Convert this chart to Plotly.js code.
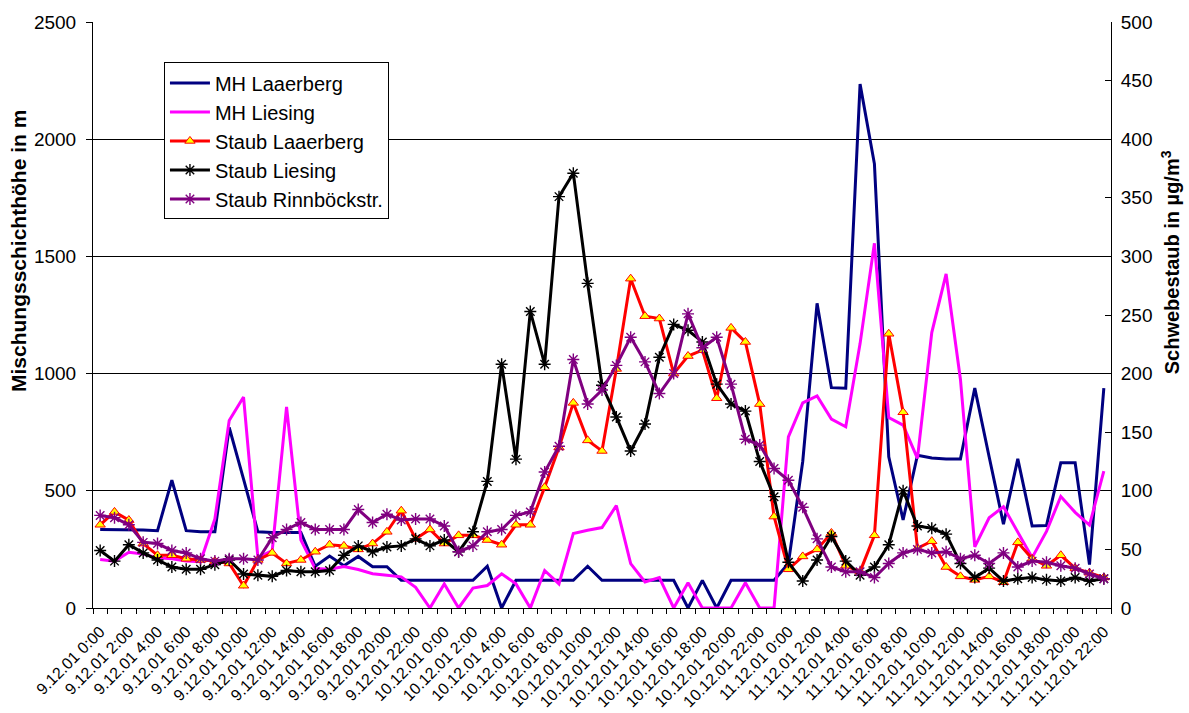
<!DOCTYPE html>
<html>
<head>
<meta charset="utf-8">
<script src="https://cdn.plot.ly/plotly-3.0.1.min.js"></script>
<style>html,body{margin:0;padding:0;background:#fff;}#chart{width:1189px;height:713px;}</style>
</head>
<body>
<div id="chart"></div>
<script>
const categories = [
"9.12.01 0:00","9.12.01 1:00","9.12.01 2:00","9.12.01 3:00","9.12.01 4:00","9.12.01 5:00","9.12.01 6:00","9.12.01 7:00",
"9.12.01 8:00","9.12.01 9:00","9.12.01 10:00","9.12.01 11:00","9.12.01 12:00","9.12.01 13:00","9.12.01 14:00","9.12.01 15:00",
"9.12.01 16:00","9.12.01 17:00","9.12.01 18:00","9.12.01 19:00","9.12.01 20:00","9.12.01 21:00","9.12.01 22:00","9.12.01 23:00",
"10.12.01 0:00","10.12.01 1:00","10.12.01 2:00","10.12.01 3:00","10.12.01 4:00","10.12.01 5:00","10.12.01 6:00","10.12.01 7:00",
"10.12.01 8:00","10.12.01 9:00","10.12.01 10:00","10.12.01 11:00","10.12.01 12:00","10.12.01 13:00","10.12.01 14:00","10.12.01 15:00",
"10.12.01 16:00","10.12.01 17:00","10.12.01 18:00","10.12.01 19:00","10.12.01 20:00","10.12.01 21:00","10.12.01 22:00","10.12.01 23:00",
"11.12.01 0:00","11.12.01 1:00","11.12.01 2:00","11.12.01 3:00","11.12.01 4:00","11.12.01 5:00","11.12.01 6:00","11.12.01 7:00",
"11.12.01 8:00","11.12.01 9:00","11.12.01 10:00","11.12.01 11:00","11.12.01 12:00","11.12.01 13:00","11.12.01 14:00","11.12.01 15:00",
"11.12.01 16:00","11.12.01 17:00","11.12.01 18:00","11.12.01 19:00","11.12.01 20:00","11.12.01 21:00","11.12.01 22:00"
];

// Mischungsschichthöhe in m (left axis)
const mhLaaerberg = [335,335,333,333,330,545,330,325,325,770,550,325,322,322,322,178,222,180,220,176,176,118,118,118,
118,118,118,178,0,118,118,118,118,118,178,118,118,118,118,118,118,0,118,0,118,118,118,118,
190,625,1300,940,938,2235,1895,645,376,652,640,636,636,938,645,358,636,350,352,620,620,185,938];
const mhLiesing = [207,200,238,230,214,210,200,198,380,800,900,215,245,858,290,168,165,177,164,146,140,133,88,0,
103,0,85,96,146,103,0,160,103,318,332,343,437,189,111,130,0,108,0,0,0,108,0,0,
730,875,905,806,773,1128,1556,812,780,638,1175,1425,975,261,385,432,323,215,327,476,408,354,584];

// Schwebestaub in µg/m³ (right axis)
const staubLaaerberg = [71,82,75,55,45,45,42,41,40,38,19,41,47,38,41,48,54,53,50,55,65,83,59,67,
55,62,62,58,54,71,71,103,137,175,143,134,204,281,249,247,200,215,220,179,239,227,174,78,
33,44,50,64,36,31,62,234,167,51,57,35,27,24,27,22,56,42,36,45,34,30,26];
const staubLiesing = [49,40,54,47,41,35,33,33,37,41,29,28,27,32,31,31,32,45,53,48,52,53,59,53,
58,48,65,108,208,127,253,208,351,371,277,190,163,134,157,214,242,237,227,191,174,168,125,95,
39,23,41,61,40,28,35,54,100,70,68,63,38,26,34,23,25,26,24,23,26,23,25];
const staubRinnboeck = [79,77,71,56,55,49,47,42,40,42,42,41,60,67,73,67,67,67,84,73,80,75,76,76,
70,48,53,65,67,79,82,116,138,212,174,186,207,231,210,183,200,251,222,231,191,144,139,119,
109,86,59,35,31,31,26,38,47,50,47,48,42,45,38,47,35,40,39,36,34,29,25];

const tickText = categories.map((c, i) => (i % 2 === 0 ? c : " "));

const FONT = "Liberation Sans, Arial, sans-serif";

const traces = [
  {name: "MH Laaerberg", x: categories, y: mhLaaerberg, type: "scatter", mode: "lines",
   line: {color: "#000080", width: 3}, yaxis: "y"},
  {name: "MH Liesing", x: categories, y: mhLiesing, type: "scatter", mode: "lines",
   line: {color: "#FF00FF", width: 3}, yaxis: "y"},
  {name: "Staub Laaerberg", x: categories, y: staubLaaerberg, type: "scatter", mode: "lines+markers",
   line: {color: "#FF0000", width: 3},
   marker: {symbol: "triangle-up", size: 9, color: "#FFFF00", line: {color: "#FF0000", width: 1}}, yaxis: "y2"},
  {name: "Staub Liesing", x: categories, y: staubLiesing, type: "scatter", mode: "lines+markers",
   line: {color: "#000000", width: 3},
   marker: {symbol: "asterisk-open", size: 10, color: "#000000", line: {color: "#000000", width: 1.4}}, yaxis: "y2"},
  {name: "Staub Rinnböckstr.", x: categories, y: staubRinnboeck, type: "scatter", mode: "lines+markers",
   line: {color: "#800080", width: 3},
   marker: {symbol: "asterisk-open", size: 10, color: "#800080", line: {color: "#800080", width: 1.4}}, yaxis: "y2"}
];

const layout = {
  width: 1189, height: 713,
  margin: {l: 93, r: 78, t: 22, b: 105},
  paper_bgcolor: "#ffffff", plot_bgcolor: "#ffffff",
  font: {family: FONT, color: "#000000", size: 17},
  showlegend: true,
  legend: {x: 0.0697, y: 0.931, xanchor: "left", yanchor: "top",
    bgcolor: "#ffffff", bordercolor: "#000000", borderwidth: 1,
    font: {family: FONT, size: 20, color: "#000000"}, itemwidth: 40, tracegroupgap: 0},
  xaxis: {type: "category", range: [-0.5, categories.length - 0.5],
    tickmode: "array", tickvals: categories, ticktext: tickText, tickson: "boundaries",
    ticks: "outside", ticklen: 5, tickcolor: "#000000", tickwidth: 1,
    tickangle: -45, ticklabelstandoff: 7, tickfont: {family: FONT, size: 16, color: "#000000"},
    showline: true, linecolor: "#000000", linewidth: 1, showgrid: false, zeroline: false, fixedrange: true},
  yaxis: {range: [0, 2500], dtick: 500, tick0: 0, ticks: "outside", ticklen: 6, tickcolor: "#000000",
    ticklabelstandoff: 6,
    showline: true, linecolor: "#000000", linewidth: 1, mirror: false,
    showgrid: true, gridcolor: "#000000", gridwidth: 1, zeroline: false,
    tickfont: {family: FONT, size: 19, color: "#000000"}, fixedrange: true},
  yaxis2: {range: [0, 500], dtick: 50, tick0: 0, overlaying: "y", side: "right",
    ticks: "inside", ticklen: 6, tickcolor: "#000000", ticklabelstandoff: 5,
    showline: true, linecolor: "#000000", linewidth: 1, showgrid: false, zeroline: false,
    tickfont: {family: FONT, size: 19, color: "#000000"}, fixedrange: true},
  annotations: [
    {text: "<b>Mischungsschichthöhe in m</b>", xref: "paper", yref: "paper", x: -0.0732, y: 0.61,
     xanchor: "center", yanchor: "middle", textangle: -90, showarrow: false,
     font: {family: FONT, size: 21, color: "#000000"}},
    {text: "<b>Schwebestaub in µg/m<sup>3</sup></b>", xref: "paper", yref: "paper", x: 1.058, y: 0.59,
     xanchor: "center", yanchor: "middle", textangle: -90, showarrow: false,
     font: {family: FONT, size: 20, color: "#000000"}}
  ]
};

Plotly.newPlot("chart", traces, layout, {displayModeBar: false, staticPlot: true});
</script>
</body>
</html>
